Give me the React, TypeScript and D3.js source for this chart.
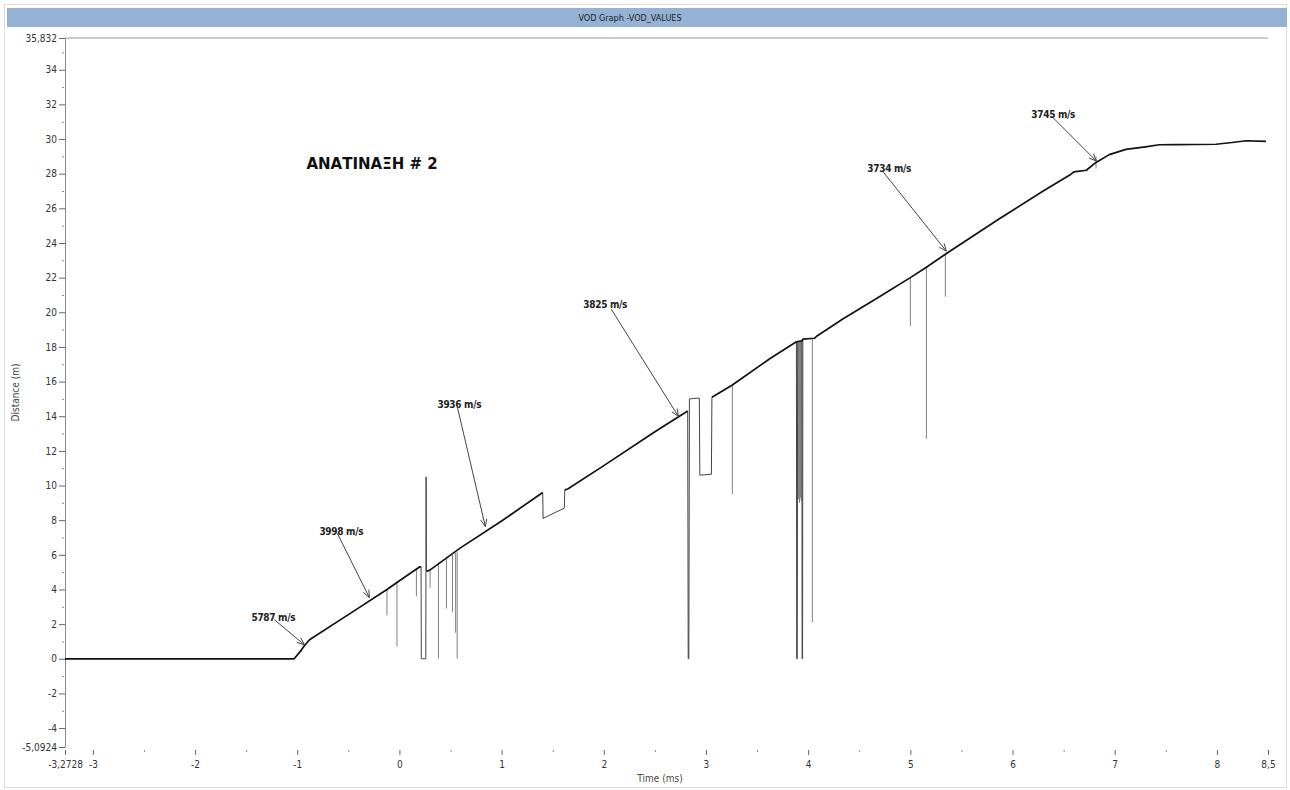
import React, { useEffect, useRef } from 'react';
import * as d3 from 'd3';

// axis extents as shown in the chart
const xDomain: [number, number] = [-3.2728, 8.5];
const yDomain: [number, number] = [-5.0924, 35.832];

const xMajorTicks = [-3.2728, -3, -2, -1, 0, 1, 2, 3, 4, 5, 6, 7, 8, 8.5];
const xMinorTicks = [-2.5, -1.5, -0.5, 0.5, 1.5, 2.5, 3.5, 4.5, 5.5, 6.5, 7.5];
const yMajorTicks = [-5.0924, -4, -2, 0, 2, 4, 6, 8, 10, 12, 14, 16, 18, 20, 22, 24, 26, 28, 30, 32, 34, 35.832];
const yMinorTicks = [-3, -1, 1, 3, 5, 7, 9, 11, 13, 15, 17, 19, 21, 23, 25, 27, 29, 31, 33, 35];

// main VOD trace: [time ms, distance m]; NaN = gap (drawn as dropout below)
const trace: [number, number][] = [
  [-3.2728, 0], [-1.03, 0], [-0.96, 0.5], [-0.93, 0.75], [-0.88, 1.1], [-0.5, 2.55],
  [-0.122, 4.0], [0, 4.5], [0.196, 5.3], [0.212, 5.3], [0.24, NaN], [0.264, 5.05], [0.294, 5.1],
  [0.597, 6.4], [1.0, 7.95], [1.402, 9.6], [1.41, NaN], [1.618, 9.75], [1.647, 9.8],
  [2.0, 11.15], [2.5, 13.1], [2.821, 14.3], [2.9, NaN], [3.058, 15.1], [3.258, 15.8],
  [3.62, 17.3], [3.885, 18.3], [3.938, 18.35], [3.948, 18.45], [4.061, 18.5], [4.09, 18.65],
  [4.335, 19.6], [4.697, 20.9], [5.0, 22.0], [5.157, 22.6], [5.342, 23.35], [5.871, 25.4],
  [6.3, 27.0], [6.572, 27.97], [6.6, 28.1], [6.722, 28.2], [6.817, 28.65], [6.947, 29.1],
  [7.11, 29.4], [7.3, 29.55], [7.436, 29.67], [7.6, 29.68], [7.99, 29.7], [8.15, 29.8],
  [8.285, 29.9], [8.48, 29.87],
];

// signal dropouts / excursions off the trace
const excursions: [number, number][][] = [
  [[0.212, 5.3], [0.214, 0], [0.258, 0], [0.261, 10.5], [0.264, 5.05]],
  [[1.402, 9.6], [1.406, 8.1], [1.614, 8.7], [1.618, 9.75]],
  [[2.821, 14.3], [2.826, 0], [2.832, 0], [2.838, 15.0], [2.935, 15.05], [2.94, 10.6], [3.053, 10.65], [3.058, 15.1]],
  [[3.885, 18.3], [3.888, 0], [3.893, 0], [3.897, 18.3]],
  [[3.938, 18.35], [3.941, 0], [3.945, 0], [3.948, 18.45]],
];

// short dropout spikes: [time, from distance, to distance]
const glitches: [number, number, number][] = [
  [-0.122, 4.0, 2.5], [-0.024, 4.4, 0.7], [0.166, 5.15, 3.6], [0.3, 5.1, 4.1],
  [0.382, 5.55, 0], [0.46, 5.75, 2.9], [0.519, 6.0, 2.7], [0.55, 6.1, 1.5], [0.565, 6.15, 0],
  [3.258, 15.8, 9.5], [3.905, 18.3, 9.2], [3.915, 18.3, 9.0], [3.925, 18.3, 9.3],
  [3.932, 18.35, 9.1], [4.041, 18.5, 2.1], [5.0, 22.0, 19.2], [5.157, 22.6, 12.7],
  [5.342, 23.35, 20.9], [6.817, 29.0, 28.3],
];

// velocity call-outs
const vodLabels = ['5787 m/s', '3998 m/s', '3936 m/s', '3825 m/s', '3734 m/s', '3745 m/s'];
const labelPos: [number, number][] = [[-1.448, 2.2], [-0.783, 7.17], [0.372, 14.5], [1.8, 20.23], [4.579, 28.09], [6.184, 31.21]];
const arrowFrom: [number, number][] = [[-1.223, 2.25], [-0.607, 7.23], [0.568, 14.5], [2.074, 20.17], [4.736, 28.09], [6.38, 31.33]];
const arrowTo: [number, number][] = [[-0.93, 0.81], [-0.294, 3.53], [0.841, 7.63], [2.73, 13.99], [5.352, 23.53], [6.82, 28.73]];

const blastTitle = 'ΑΝΑΤΙΝΑΞΗ # 2';
const blastPos: [number, number] = [-0.91, 28.27];

const fmt = (d: number) => String(d).replace('.', ',');

export default function App() {
  const ref = useRef<SVGSVGElement>(null);

  useEffect(() => {
    const W = 1290, H = 790;
    const margin = { top: 38, right: 22, bottom: 43, left: 65 };
    const svg = d3.select(ref.current);
    svg.selectAll('*').remove();

    const font = "'DejaVu Sans Condensed', 'DejaVu Sans', sans-serif";

    // frame + title bar
    svg.append('rect').attr('x', 4.5).attr('y', 4.5).attr('width', 1282).attr('height', 783)
      .attr('fill', '#fff').attr('stroke', '#dcdcdc');
    svg.append('rect').attr('x', 7).attr('y', 8).attr('width', 1280).attr('height', 19).attr('fill', '#95b2d4');
    svg.append('text').attr('x', 630).attr('y', 21).attr('text-anchor', 'middle')
      .attr('font-family', font).attr('font-size', 9).attr('fill', '#222').text('VOD Graph -VOD_VALUES');

    const x = d3.scaleLinear().domain(xDomain).range([margin.left, W - margin.right]);
    const y = d3.scaleLinear().domain(yDomain).range([H - margin.bottom, margin.top]);

    // top border of the plot
    svg.append('line').attr('x1', x(xDomain[0])).attr('x2', x(xDomain[1]))
      .attr('y1', y(yDomain[1])).attr('y2', y(yDomain[1])).attr('stroke', '#cbcbcb').attr('stroke-width', 2);

    // y axis
    const yAxis = svg.append('g').attr('transform', `translate(${margin.left},0)`)
      .call(d3.axisLeft(y).tickValues(yMajorTicks).tickFormat(d => fmt(+d)).tickSize(6).tickSizeOuter(0).tickPadding(2));
    yAxis.select('.domain').attr('stroke', '#8a8a8a');
    yAxis.selectAll('.tick line').attr('stroke', '#666');
    yAxis.selectAll('text').attr('font-family', font).attr('font-size', 10).attr('fill', '#333');
    const yMinor = svg.append('g').attr('transform', `translate(${margin.left - 1},0)`)
      .call(d3.axisLeft(y).tickValues(yMinorTicks).tickFormat(() => '').tickSize(2).tickSizeOuter(0));
    yMinor.select('.domain').remove();
    yMinor.selectAll('.tick line').attr('stroke', '#888');

    // x axis (ticks hang below, no baseline)
    const xAxis = svg.append('g').attr('transform', `translate(0,${H - margin.bottom + 3})`)
      .call(d3.axisBottom(x).tickValues(xMajorTicks).tickFormat(d => fmt(+d)).tickSize(5).tickPadding(6));
    xAxis.select('.domain').remove();
    xAxis.selectAll('.tick line').attr('stroke', '#666');
    xAxis.selectAll('text').attr('font-family', font).attr('font-size', 10).attr('fill', '#333');
    const xMinor = svg.append('g').attr('transform', `translate(0,${H - margin.bottom + 3})`)
      .call(d3.axisBottom(x).tickValues(xMinorTicks).tickFormat(() => '').tickSize(2));
    xMinor.select('.domain').remove();
    xMinor.selectAll('.tick line').attr('stroke', '#888');

    // axis titles
    svg.append('text').attr('transform', `translate(19,${(margin.top + H - margin.bottom) / 2}) rotate(-90)`)
      .attr('text-anchor', 'middle').attr('font-family', font).attr('font-size', 10).attr('fill', '#444')
      .text('Distance (m)');
    svg.append('text').attr('x', 660).attr('y', 782).attr('text-anchor', 'middle')
      .attr('font-family', font).attr('font-size', 10).attr('fill', '#444').text('Time (ms)');

    const line = d3.line<[number, number]>()
      .defined(d => !isNaN(d[1]))
      .x(d => x(d[0])).y(d => y(d[1]));

    // dropouts
    svg.append('g').selectAll('line').data(glitches).enter().append('line')
      .attr('x1', d => x(d[0])).attr('x2', d => x(d[0]))
      .attr('y1', d => y(d[1])).attr('y2', d => y(d[2]))
      .attr('stroke', '#808080').attr('stroke-width', 1);
    svg.append('g').selectAll('path').data(excursions).enter().append('path')
      .attr('fill', 'none').attr('stroke', '#444').attr('stroke-width', 1)
      .attr('d', d => line(d));

    svg.append('path').datum(trace)
      .attr('fill', 'none').attr('stroke', '#111').attr('stroke-width', 1.7)
      .attr('stroke-linejoin', 'round').attr('d', line);

    // arrows + labels
    const ann = svg.append('g');
    vodLabels.forEach((label, i) => {
      const x1 = x(arrowFrom[i][0]), y1 = y(arrowFrom[i][1]);
      const x2 = x(arrowTo[i][0]), y2 = y(arrowTo[i][1]);
      const a = Math.atan2(y2 - y1, x2 - x1);
      ann.append('line').attr('x1', x1).attr('y1', y1).attr('x2', x2).attr('y2', y2)
        .attr('stroke', '#444').attr('stroke-width', 1);
      [0.4, -0.4].forEach(o => {
        ann.append('line').attr('x1', x2).attr('y1', y2)
          .attr('x2', x2 - 8 * Math.cos(a + o)).attr('y2', y2 - 8 * Math.sin(a + o))
          .attr('stroke', '#444').attr('stroke-width', 1);
      });
      ann.append('text').attr('x', x(labelPos[i][0])).attr('y', y(labelPos[i][1]))
        .attr('font-family', font).attr('font-size', 10).attr('font-weight', 'bold')
        .attr('letter-spacing', -0.3).attr('fill', '#222').text(label);
    });

    svg.append('text').attr('x', x(blastPos[0])).attr('y', y(blastPos[1]))
      .attr('font-family', "'DejaVu Sans', sans-serif").attr('font-size', 15).attr('font-weight', 'bold')
      .attr('fill', '#111').text(blastTitle);
  }, []);

  return (
    <svg ref={ref} width={1290} height={790}
      style={{ position: 'absolute', left: 0, top: 0, background: '#fff' }} />
  );
}
